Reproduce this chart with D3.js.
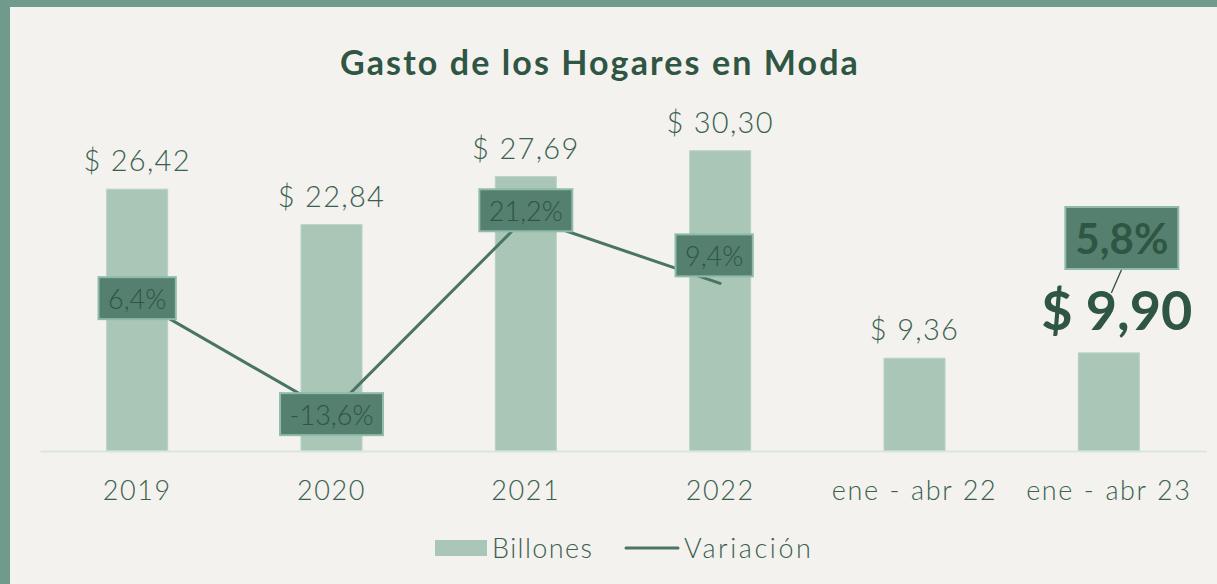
<!DOCTYPE html>
<html><head><meta charset="utf-8">
<script src="https://cdn.jsdelivr.net/npm/d3@7"></script>
<style>
html,body{margin:0;padding:0;background:#f4f2ee;}
svg{display:block;}
text{font-family:Lato,"Noto Sans",sans-serif;}
</style></head>
<body>
<svg id="chart" width="1217" height="584"></svg>
<script>
const title = "Gasto de los Hogares en Moda";
const categories = ["2019","2020","2021","2022","ene - abr 22","ene - abr 23"];
const billones = [26.42, 22.84, 27.69, 30.30, 9.36, 9.90];
const variacion = [6.4, -13.6, 21.2, 9.4, null, 5.8];
const legendLabels = ["Billones","Variación"];

const C = {
  frame:"#6f9a8c", bg:"#f4f2ee", bar:"#a9c6b7", barStroke:"#b7d2c4",
  line:"#4a7565", box:"#557f6f", boxStroke:"#8fbcaa", text:"#3a6150",
  dark:"#2f5543", axis:"#d8e6df"
};

const svg = d3.select("#chart");
svg.append("rect").attr("width",1217).attr("height",584).attr("fill",C.frame);
svg.append("rect").attr("x",10).attr("y",7).attr("width",1207).attr("height",577).attr("fill",C.bg);

const x = d3.scaleBand().domain(categories).range([40,1206]).paddingInner(0.686).paddingOuter(0.343);
const y = d3.scaleLinear().domain([0,35]).range([451,104.2]);
const y2 = d3.scaleLinear().domain([-20,40]).range([448,112]);
const fmt = v => "$ " + d3.format(".2f")(v).replace(".",",");
const pfmt = v => d3.format(".1f")(v).replace(".",",").replace("\u2212","-") + "%";

// title
svg.append("text").attr("x",600).attr("y",75).attr("text-anchor","middle")
  .attr("font-size",34).attr("font-weight",700).attr("letter-spacing",2.1).attr("fill",C.dark).text(title);

// bars
svg.append("g").selectAll("rect").data(billones).join("rect")
  .attr("x",(d,i)=>x(categories[i])).attr("width",x.bandwidth())
  .attr("y",d=>y(d)).attr("height",d=>y(0)-y(d))
  .attr("fill",C.bar).attr("stroke",C.barStroke).attr("stroke-width",1);

// axis
const ax = svg.append("g").attr("transform",`translate(0,${y(0)})`)
  .call(d3.axisBottom(x).tickSize(0).tickPadding(0));
ax.select(".domain").attr("stroke",C.axis).attr("stroke-width",2);
ax.selectAll("text").attr("font-size",27).attr("font-weight",300).attr("fill",C.text)
  .attr("letter-spacing",1.6).attr("word-spacing",1)
  .attr("font-family","Lato,'Noto Sans',sans-serif").attr("dy",0).attr("y",49);

// bar value labels
const last = billones.length-1;
svg.append("g").selectAll("text").data(billones).join("text")
  .attr("x",(d,i)=>x(categories[i])+x.bandwidth()/2 + (i===last?8:0))
  .attr("y",(d,i)=> i===last ? y(d)-23 : y(d)-18)
  .attr("text-anchor","middle")
  .attr("font-size",(d,i)=> i===last ? 54 : 29)
  .attr("font-weight",(d,i)=> i===last ? 700 : 300)
  .attr("letter-spacing",(d,i)=> i===last ? 0 : 1.3)
  .attr("fill",(d,i)=> i===last ? C.dark : C.text)
  .text(d=>fmt(d));

// line
const cx = i => x(categories[i]) + x.bandwidth()/2;
const lineGen = d3.line().defined(d=>d.v!==null).x(d=>cx(d.i)).y(d=>y2(d.v));
const pts = variacion.map((v,i)=>({v,i}));
svg.append("path").datum(pts.slice(0,4)).attr("d",lineGen)
  .attr("fill","none").attr("stroke",C.line).attr("stroke-width",3).attr("stroke-linecap","round");

// leader for last label
svg.append("line").attr("x1",cx(5)+13).attr("y1",269).attr("x2",cx(5)+2.5).attr("y2",293)
  .attr("stroke",C.dark).attr("stroke-width",1.3);

// variation labels
const offsets = [[0,-2],[0,2],[0,-7],[-6,-28],null,[13,0]];
variacion.forEach((v,i)=>{
  if(v===null) return;
  const big = i===5;
  const g = svg.append("g");
  const t = g.append("text").attr("text-anchor","middle")
    .attr("font-size", big?42:27).attr("font-weight", big?700:300)
    .attr("fill", C.dark).text(pfmt(v));
  let cxp, cyp;
  if(big){ cxp = cx(i)+13; cyp = 238; }
  else { cxp = cx(i)+offsets[i][0]; cyp = y2(v)+offsets[i][1]; }
  const bb = t.node().getBBox();
  const w = bb.width + (big?20:19), h = big?62:42;
  g.insert("rect","text").attr("x",cxp-w/2).attr("y",cyp-h/2).attr("width",w).attr("height",h)
    .attr("fill",C.box).attr("stroke",C.boxStroke).attr("stroke-width",2);
  t.attr("x",cxp).attr("y",cyp).attr("dominant-baseline","central");
});

// legend
const lg = svg.append("g");
lg.append("rect").attr("x",435).attr("y",540).attr("width",52).attr("height",16).attr("fill",C.bar);
lg.append("text").attr("x",492).attr("y",558).attr("font-size",27).attr("font-weight",300).attr("letter-spacing",1.4).attr("fill",C.text).text(legendLabels[0]);
lg.append("line").attr("x1",626).attr("x2",678).attr("y1",548).attr("y2",548).attr("stroke",C.line).attr("stroke-width",3).attr("stroke-linecap","round");
lg.append("text").attr("x",684).attr("y",558).attr("font-size",27).attr("font-weight",300).attr("letter-spacing",2.6).attr("fill",C.text).text(legendLabels[1]);
</script>
</body></html>
